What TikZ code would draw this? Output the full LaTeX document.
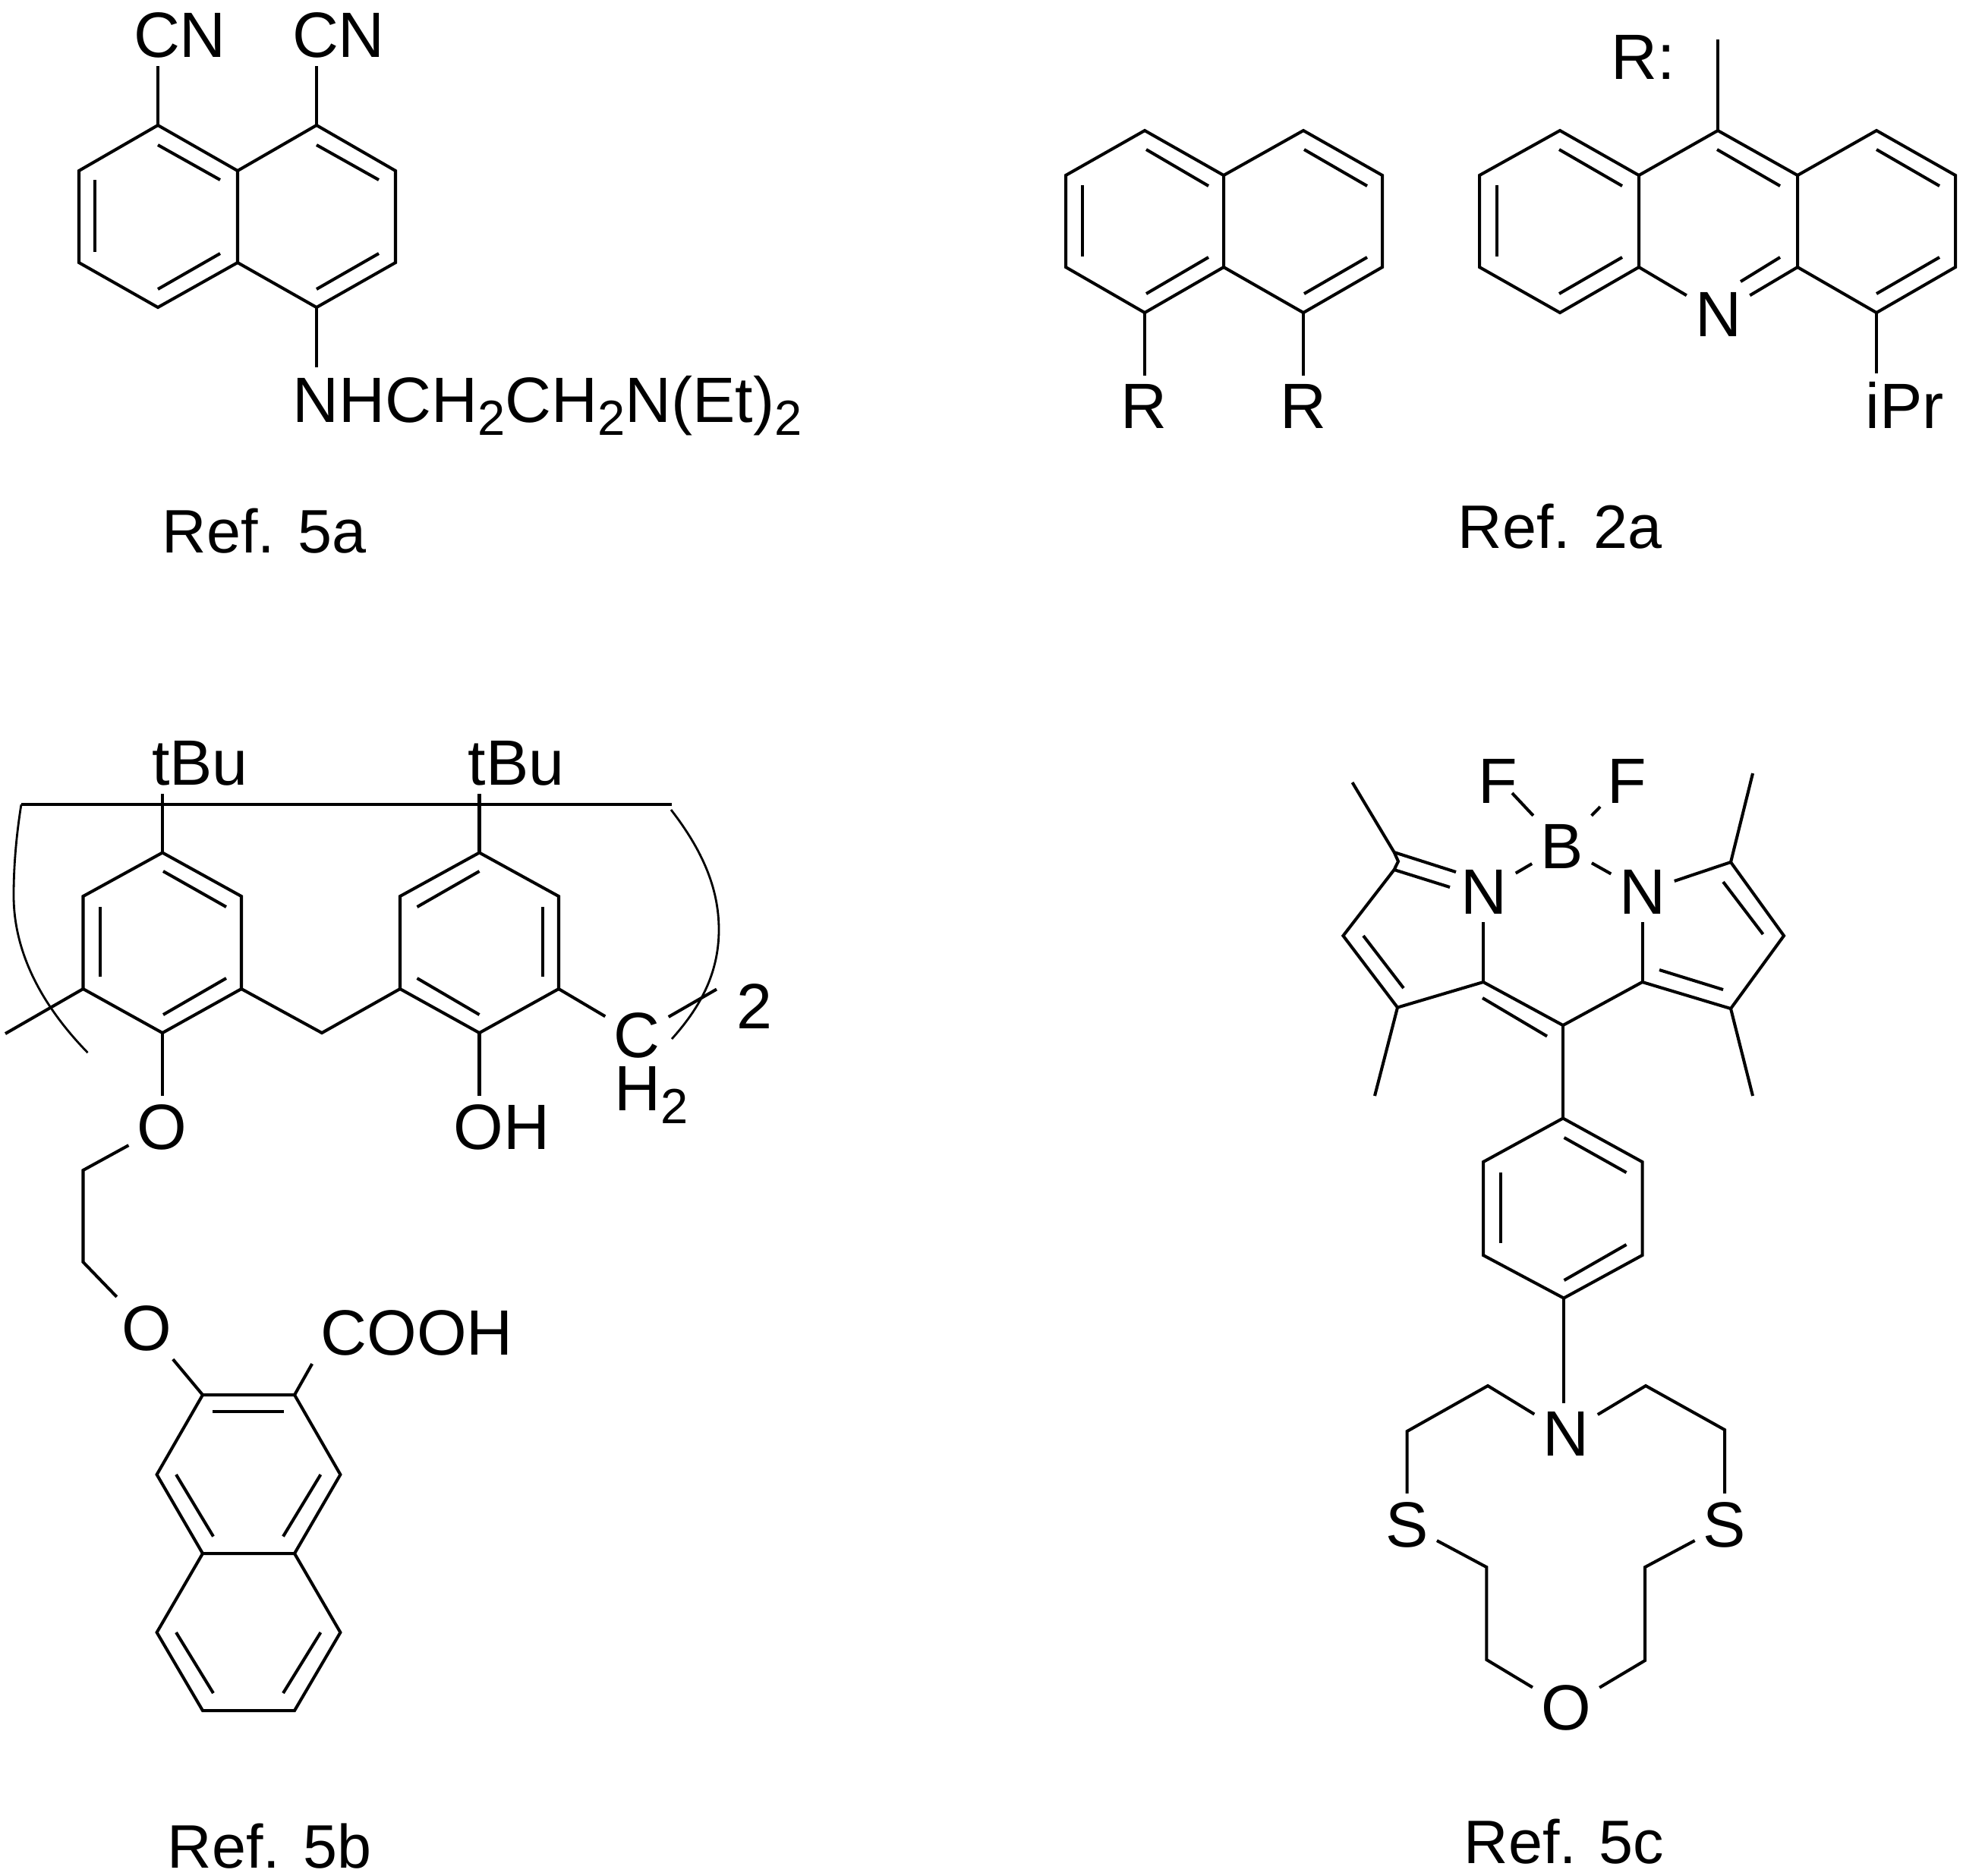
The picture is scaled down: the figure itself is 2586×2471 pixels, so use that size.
\documentclass[tikz,border=0pt]{standalone}
\usepackage{fontspec}
\setmainfont{Liberation Sans}
\newcommand{\lowtwo}{\raisebox{-5.1pt}{\fontsize{18.5}{20}\selectfont 2}}
\tikzset{
  bond/.style={line width=1.15pt},
  thinarc/.style={line width=0.8pt},
  atom/.style={font=\fontsize{24}{27}\selectfont,inner sep=3pt,anchor=base},
  reflabel/.style={font=\fontsize{23}{27}\selectfont,inner sep=0pt,anchor=base}
}
\begin{document}
\begin{tikzpicture}[x=0.01cm,y=-0.01cm]
\useasboundingbox (0,0) rectangle (2586,2471);

% Ref. 5a
\foreach \n/\x/\y in {a1/208/165,a2/313/225,a3/313/346,a4/208/405,a5/104/346,a6/104/225,
  a7/417/165,a8/521/225,a9/521/346,a10/417/405}
  \coordinate (\n) at (\x,\y);
\draw[bond] (a1) -- (a2) -- (a3) -- (a4) -- (a5) -- (a6) -- cycle;
\draw[bond] (a2) -- (a7) -- (a8) -- (a9) -- (a10) -- (a3);
\foreach \xa/\ya/\xb/\yb in {208/191/290/237,125/237/125/332,290/334/208/381,
  417/191/499/237,499/334/417/381}
  \draw[bond] (\xa,\ya) -- (\xb,\yb);
\node[atom] (cnL) at (237,75) {CN};
\node[atom] (cnR) at (446,75) {CN};
\node[atom] (amine) at (721,556) {NHCH\lowtwo CH\lowtwo N(Et)\lowtwo};
\draw[bond] (a1) -- (a1 |- cnL.south);
\draw[bond] (a7) -- (a7 |- cnR.south);
\draw[bond] (a10) -- (a10 |- amine.north);
\node[reflabel] (refA) at (348,728) {Ref. 5a};

% Ref. 2a, naphthalene
\foreach \n/\x/\y in {n1/1508/172,n2/1612/231,n3/1612/352,n4/1508/412,n5/1404/352,n6/1404/231,
  n7/1717/172,n8/1821/231,n9/1821/352,n10/1717/412}
  \coordinate (\n) at (\x,\y);
\draw[bond] (n1) -- (n2) -- (n3) -- (n4) -- (n5) -- (n6) -- cycle;
\draw[bond] (n2) -- (n7) -- (n8) -- (n9) -- (n10) -- (n3);
\foreach \xa/\ya/\xb/\yb in {1510/197/1592/245,1426/244/1426/338,1592/339/1510/387,
  1718/197/1801/245,1801/339/1718/387}
  \draw[bond] (\xa,\ya) -- (\xb,\yb);
\node[atom] (rL) at (1506.5,564) {R};
\node[atom] (rR) at (1716.5,564) {R};
\draw[bond] (n4) -- (n4 |- rL.north);
\draw[bond] (n10) -- (n10 |- rR.north);

% Ref. 2a, acridine
\foreach \n/\x/\y in {r1/2055/172,r2/2159/231,r3/2159/352,r4/2055/412,r5/1949/352,r6/1949/231,
  r7/2263/172,r8/2368/231,r9/2368/352,r10/2472/172,r11/2576/231,r12/2576/352,r13/2472/412,rt/2263/52}
  \coordinate (\n) at (\x,\y);
\draw[bond] (r1) -- (r2) -- (r3) -- (r4) -- (r5) -- (r6) -- cycle;
\draw[bond] (r2) -- (r7) -- (r8) -- (r9);
\draw[bond] (r8) -- (r10) -- (r11) -- (r12) -- (r13) -- (r9);
\draw[bond] (r7) -- (rt);
\foreach \xa/\ya/\xb/\yb in {2054/197/2137/245,1972/244/1972/338,2137/339/2054/387,
  2262/197/2345/245,2345/339/2293/371,2472/197/2555/245,2555/339/2472/387}
  \draw[bond] (\xa,\ya) -- (\xb,\yb);
\node[atom] (nAcr) at (2263.5,443) {N};
\node[atom] (rColon) at (2164.5,104) {R:};
\node[atom] (ipr) at (2509,564) {iPr};
\draw[bond] (r3) -- (nAcr);
\draw[bond] (r9) -- (nAcr);
\draw[bond] (r13) -- (r13 |- ipr.north);
\node[reflabel] (refB) at (2055,722) {Ref. 2a};

% Ref. 5b, calixarene unit
\foreach \n/\x/\y in {b1/214/1123.5,b2/318/1181,b3/318/1303,b4/214/1361,b5/109.5/1303,b6/109.5/1181,
  c1/631.5/1123.5,c2/736/1181,c3/736/1303,c4/631.5/1361,c5/527/1303,c6/527/1181,
  bridge/424/1361,stub/7/1362,barL/28/1060,barR/885/1060,twoEnd/944/1303.5,
  ch1/109.5/1542,ch2/109.5/1663}
  \coordinate (\n) at (\x,\y);
\draw[bond] (b1) -- (b2) -- (b3) -- (b4) -- (b5) -- (b6) -- cycle;
\draw[bond] (c1) -- (c2) -- (c3) -- (c4) -- (c5) -- (c6) -- cycle;
\draw[bond] (b3) -- (bridge) -- (c5);
\draw[bond] (b5) -- (stub);
\draw[bond] (barL) -- (barR);
\foreach \xa/\ya/\xb/\yb in {215/1148/298/1195,132/1195/132/1287,298/1289/215/1337,
  631.5/1148/549.5/1195,715/1195/715/1287,549.5/1289/631.5/1337}
  \draw[bond] (\xa,\ya) -- (\xb,\yb);
\node[atom] (tbuL) at (263.5,1034) {tBu};
\node[atom] (tbuR) at (680,1034) {tBu};
\node[atom] (oxA) at (213.5,1514) {O};
\node[atom] (oh) at (661,1514) {OH};
\node[atom] (cBr) at (839,1393) {C};
\node[atom,inner sep=0pt] (hTwo) at (858,1463) {H\lowtwo};
\node[atom,inner sep=0pt] (twoN) at (994,1355) {2};
\draw[bond] (b1) -- (b1 |- tbuL.south);
\draw[bond] (c1) -- (c1 |- tbuR.south);
\draw[bond] (b4) -- (b4 |- oxA.north);
\draw[bond] (c4) -- (c4 |- oh.north);
\draw[bond] (c3) -- (cBr);
\draw[bond] (cBr) -- (twoEnd);
% ring closure arcs
\draw[thinarc] (barL) .. controls (20,1110) and (18,1150) .. (18,1180) .. controls (18,1260) and (60,1330) .. (115.5,1387);
\draw[thinarc] (884,1067) .. controls (925,1120) and (947,1170) .. (947,1225) .. controls (947,1285) and (920,1330) .. (885,1369);

% Ref. 5b, linker and naphthoic acid
\foreach \n/\x/\y in {d1/267/1838,d2/388/1838,d3/448.4/1943,d4/388/2047,d5/267/2047,d6/206.6/1943,
  d7/448.4/2151,d8/388/2254,d9/267/2254,d10/206.6/2151}
  \coordinate (\n) at (\x,\y);
\draw[bond] (d1) -- (d2) -- (d3) -- (d4) -- (d5) -- (d6) -- cycle;
\draw[bond] (d4) -- (d7) -- (d8) -- (d9) -- (d10) -- (d5);
\foreach \xa/\ya/\xb/\yb in {280/1860/374/1860,232/1943/281/2024.5,422.4/1943/373/2024.5,
  232/2151/281/2231,422.4/2151/373/2231}
  \draw[bond] (\xa,\ya) -- (\xb,\yb);
\node[atom] (oxB) at (193.5,1779) {O};
\node[atom] (cooh) at (549,1785) {COOH};
\draw[bond] (oxA) -- (ch1) -- (ch2) -- (oxB);
\draw[bond] (oxB) -- (d1);
\draw[bond] (d2) -- (cooh.south west);
\node[reflabel] (refC) at (355,2461) {Ref. 5b};

% Ref. 5c, BODIPY core
\foreach \n/\x/\y in {e1/1842/1135,e1a/1836.6/1123,e1b/1836.6/1146,e2/1769.4/1233,e3/1841/1327.5,e4/1954/1294,e5/2059/1351,
  e6/2163.5/1294,e7/2280/1329,e8/2350/1233,e9/2280/1136,
  meA/1781.5/1031,meB/2309/1019,meC/1811/1444,meD/2309/1444,
  fEndL/1992/1045,fEndR/2108/1063,
  p1/2059/1473.5,p2/2163.5/1531,p3/2163.5/1654,p4/2060/1710.5,p5/1954/1654,p6/1954/1531}
  \coordinate (\n) at (\x,\y);
\draw[bond] (e1a) -- (e1) -- (e1b) -- (e2) -- (e3) -- (e4) -- (e5) -- (e6) -- (e7) -- (e8) -- (e9);
\draw[bond] (e1a) -- (meA);
\draw[bond] (e9) -- (meB);
\draw[bond] (e3) -- (meC);
\draw[bond] (e7) -- (meD);
\draw[bond] (e5) -- (p1);
\draw[bond] (p1) -- (p2) -- (p3) -- (p4) -- (p5) -- (p6) -- cycle;
\foreach \xa/\ya/\xb/\yb in {1836.6/1123/1918/1149,1836.6/1146/1910/1169,1796/1233/1849/1302,2186/1278/2270/1304,
  2270/1162/2322.5/1231,1953/1315/2038/1365.4,2060.5/1499/2142.5/1545,1977/1545/1977/1638,2142.5/1640/2060.5/1687}
  \draw[bond] (\xa,\ya) -- (\xb,\yb);
\node[atom] (fL) at (1973,1058) {F};
\node[atom] (fR) at (2143,1058) {F};
\node[atom] (boron) at (2057.5,1144) {B};
\node[atom] (nL) at (1955,1204) {N};
\node[atom] (nR) at (2164,1204) {N};
\draw[bond] (fEndL) -- (boron);
\draw[bond] (fEndR) -- (boron);
\draw[bond] (boron) -- (nL);
\draw[bond] (boron) -- (nR);
\draw[bond] (nR) -- (e9);
\draw[bond] (e4) -- (e4 |- nL.south);
\draw[bond] (e6) -- (e6 |- nR.south);

% Ref. 5c, crown ring
\foreach \n/\x/\y in {f1/1960/1826,f2/1853.6/1886,f3/1958.4/2065,f4/1958.4/2187,
  g1/2168/1826,g2/2272/1884,g3/2167/2065,g4/2167/2188}
  \coordinate (\n) at (\x,\y);
\node[atom] (nCrown) at (2063,1918) {N};
\node[atom] (sL) at (1853.5,2038) {S};
\node[atom] (sR) at (2272,2038) {S};
\node[atom] (oCrown) at (2063,2279) {O};
\draw[bond] (p4) -- (p4 |- nCrown.north);
\draw[bond] (nCrown) -- (f1) -- (f2) -- (sL);
\draw[bond] (sL) -- (f3) -- (f4) -- (oCrown);
\draw[bond] (nCrown) -- (g1) -- (g2) -- (sR);
\draw[bond] (sR) -- (g3) -- (g4) -- (oCrown);
\node[reflabel] (refD) at (2060.5,2455) {Ref. 5c};
\end{tikzpicture}
\end{document}
